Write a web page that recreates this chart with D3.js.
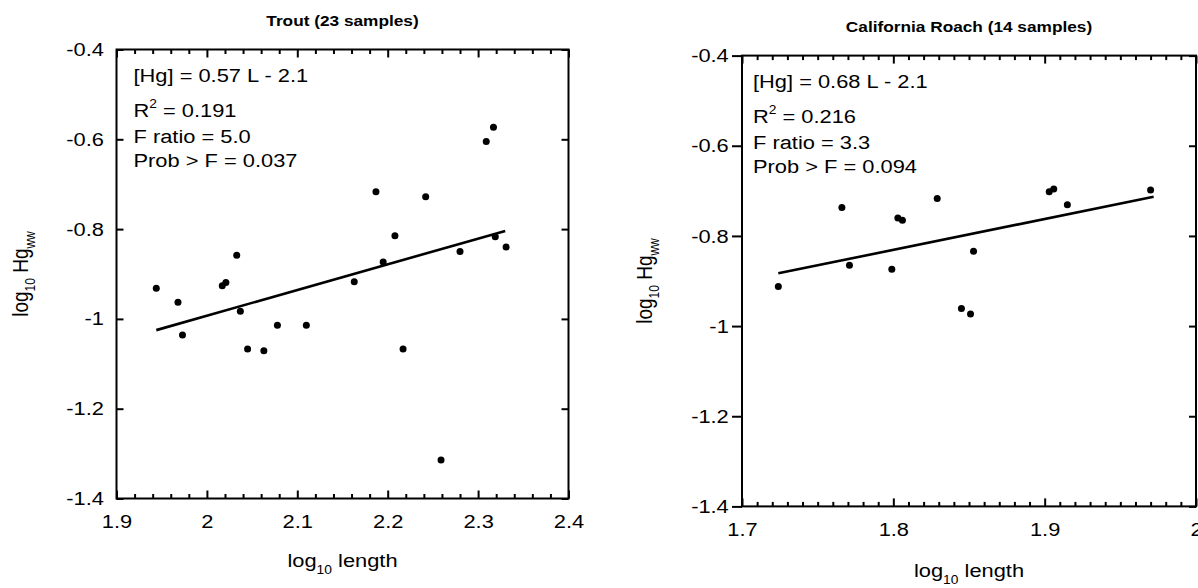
<!DOCTYPE html>
<html>
<head>
<meta charset="utf-8">
<script src="https://cdn.jsdelivr.net/npm/d3@7"></script>
<style>
  body { margin: 0; background: #fff; }
  svg text { font-family: "Liberation Sans", Arial, sans-serif; fill: #000; }
</style>
</head>
<body>
<svg id="chart" width="1198" height="588"></svg>
<script>
// ---- data ----
const yTicks = [-0.4, -0.6, -0.8, -1, -1.2, -1.4];
const yTickLabels = ["-0.4", "-0.6", "-0.8", "-1", "-1.2", "-1.4"];

// Trout (23 samples)
const troutTicks = [1.9, 2, 2.1, 2.2, 2.3, 2.4];
const troutTickLabels = ["1.9", "2", "2.1", "2.2", "2.3", "2.4"];
const troutLength = [1.944, 1.968, 1.973, 2.017, 2.021, 2.033, 2.037, 2.045, 2.063, 2.078, 2.110, 2.163,
  2.187, 2.195, 2.208, 2.217, 2.242, 2.259, 2.280, 2.309, 2.317, 2.319, 2.331];
const troutHg = [-0.932, -0.963, -1.036, -0.926, -0.919, -0.858, -0.983, -1.067, -1.071, -1.014, -1.014, -0.917,
  -0.717, -0.873, -0.815, -1.067, -0.728, -1.314, -0.850, -0.605, -0.573, -0.817, -0.840];
const troutFitLength = [1.944, 2.330];
const troutFitHg = [-1.025, -0.804];
const troutStats = ["[Hg] = 0.57 L - 2.1", "R² = 0.191", "F ratio = 5.0", "Prob > F = 0.037"];

// California Roach (14 samples)
const roachTicks = [1.7, 1.8, 1.9, 2];
const roachTickLabels = ["1.7", "1.8", "1.9", "2"];
const roachLength = [1.724, 1.766, 1.771, 1.799, 1.803, 1.806, 1.829, 1.845, 1.851, 1.853, 1.903, 1.906, 1.915, 1.970];
const roachHg = [-0.912, -0.737, -0.865, -0.874, -0.760, -0.765, -0.717, -0.961, -0.973, -0.834, -0.702, -0.696, -0.731, -0.698];
const roachFitLength = [1.724, 1.972];
const roachFitHg = [-0.883, -0.713];
const roachStats = ["[Hg] = 0.68 L - 2.1", "R² = 0.216", "F ratio = 3.3", "Prob > F = 0.094"];

// the original picture is stretched a little sideways
const SX = 1.15;
const svg = d3.select("#chart");

function drawPanel(p) {
  const g = svg.append("g");
  const x = d3.scaleLinear().domain([p.ticks[0], p.ticks[p.ticks.length - 1]]).range([p.left, p.right]);
  const y = d3.scaleLinear().domain([-1.4, -0.4]).range([p.bottom, p.top]);

  const minor = d3.range(x.domain()[0], x.domain()[1] + 1e-9, p.minorStep)
    .filter(v => !p.ticks.some(t => Math.abs(t - v) < 1e-6));

  // minor ticks, bottom and top, pointing inward
  g.append("g").attr("transform", `translate(0,${p.bottom})`)
    .call(d3.axisBottom(x).tickValues(minor).tickSize(-4.5).tickFormat(""));
  g.append("g").attr("transform", `translate(0,${p.top})`)
    .call(d3.axisTop(x).tickValues(minor).tickSize(-4.5).tickFormat(""));

  // major x ticks
  g.append("g").attr("transform", `translate(0,${p.bottom})`)
    .call(d3.axisBottom(x).tickValues(p.ticks).tickSizeInner(-8).tickSizeOuter(0)
      .tickPadding(p.xPad).tickFormat((d, i) => p.tickLabels[i]));
  g.append("g").attr("transform", `translate(0,${p.top})`)
    .call(d3.axisTop(x).tickValues(p.ticks).tickSize(-8).tickFormat(""));

  // y ticks
  g.append("g").attr("transform", `translate(${p.left},0)`)
    .call(d3.axisLeft(y).tickValues(yTicks).tickSizeInner(p.yTickSize).tickSizeOuter(0)
      .tickPadding(p.yPad).tickFormat((d, i) => yTickLabels[i]));
  g.append("g").attr("transform", `translate(${p.right},0)`)
    .call(d3.axisRight(y).tickValues(yTicks).tickSize(-7).tickFormat(""));

  g.selectAll(".domain").remove();
  g.selectAll(".tick line").attr("stroke", "#000").attr("stroke-width", 2);
  g.selectAll(".tick text")
    .attr("font-size", 19)
    .attr("fill", "#000")
    .attr("transform", `scale(${SX},1)`);

  // frame
  g.append("rect")
    .attr("x", p.left).attr("y", p.top)
    .attr("width", p.right - p.left).attr("height", p.bottom - p.top)
    .attr("fill", "none").attr("stroke", "#000").attr("stroke-width", 2);

  // fitted line
  g.append("path")
    .datum(d3.zip(p.fitX, p.fitY))
    .attr("d", d3.line().x(d => x(d[0])).y(d => y(d[1])))
    .attr("fill", "none").attr("stroke", "#000").attr("stroke-width", 2.6);

  // samples
  g.selectAll(".dot")
    .data(d3.zip(p.xs, p.ys))
    .enter().append("circle")
    .attr("class", "dot")
    .attr("cx", d => x(d[0]))
    .attr("cy", d => y(d[1]))
    .attr("r", 3.5)
    .attr("fill", "#000");

  const cx = (p.left + p.right) / 2;
  const cy = (p.top + p.bottom) / 2;

  // title
  g.append("text")
    .attr("transform", `translate(${cx},${p.titleY}) scale(${SX},1)`)
    .attr("text-anchor", "middle")
    .attr("font-size", 15)
    .attr("font-weight", "bold")
    .text(p.title);

  // stats block
  const offsets = [32, 67, 93, 117];
  p.stats.forEach((s, i) => {
    const t = g.append("text")
      .attr("transform", `translate(${p.left + p.statsDx},${p.top + offsets[i]}) scale(${SX},1)`)
      .attr("font-size", 19);
    if (s.startsWith("R²")) {
      t.append("tspan").text("R");
      t.append("tspan").attr("font-size", 12).attr("dy", -9).text("2");
      t.append("tspan").attr("dy", 9).text(s.slice(2));
    } else {
      t.text(s);
    }
  });

  // x axis label
  const xl = g.append("text")
    .attr("transform", `translate(${cx},${p.xLabelY}) scale(${SX},1)`)
    .attr("text-anchor", "middle")
    .attr("font-size", 19);
  xl.append("tspan").text("log");
  xl.append("tspan").attr("font-size", 12).attr("dy", 7).text("10");
  xl.append("tspan").attr("dy", -7).text(" length");

  // y axis label
  const yl = g.append("text")
    .attr("transform", `translate(${p.yLabelX},${cy}) scale(${SX},1) rotate(-90)`)
    .attr("text-anchor", "middle")
    .attr("font-size", 19);
  yl.append("tspan").text("log");
  yl.append("tspan").attr("font-size", 12).attr("dy", 6).text("10");
  yl.append("tspan").attr("dy", -6).text(" Hg");
  yl.append("tspan").attr("font-size", 12).attr("dy", 6).text("ww");
}

drawPanel({
  title: "Trout (23 samples)",
  ticks: troutTicks, tickLabels: troutTickLabels, minorStep: 0.02,
  xs: troutLength, ys: troutHg, fitX: troutFitLength, fitY: troutFitHg, stats: troutStats,
  left: 116.5, right: 568.5, top: 49.5, bottom: 498.5,
  xPad: 16, yPad: 11, yTickSize: -7,
  titleY: 26, xLabelY: 567, yLabelX: 28, statsDx: 17
});

drawPanel({
  title: "California Roach (14 samples)",
  ticks: roachTicks, tickLabels: roachTickLabels, minorStep: 0.01,
  xs: roachLength, ys: roachHg, fitX: roachFitLength, fitY: roachFitHg, stats: roachStats,
  left: 742, right: 1196, top: 55.6, bottom: 506.4,
  xPad: 16.5, yPad: 1.5, yTickSize: 10,
  titleY: 31.7, xLabelY: 577, yLabelX: 652, statsDx: 11
});
</script>
</body>
</html>
